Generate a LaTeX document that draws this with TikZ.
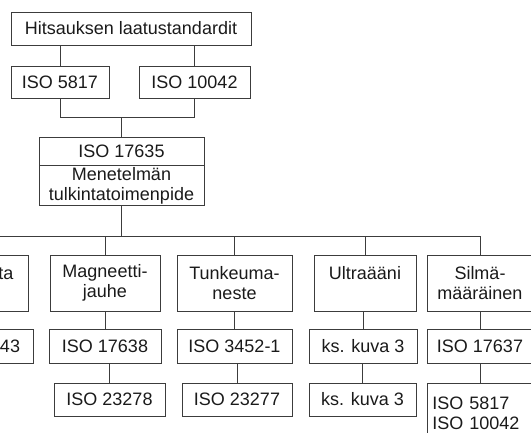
\documentclass[tikz,border=0pt]{standalone}
\usepackage{fontspec}
\setmainfont{Liberation Sans}
\usepackage{tikz}
\usetikzlibrary{positioning}
\definecolor{boxline}{HTML}{3C3C3C}
\definecolor{boxtext}{HTML}{1A1A1A}

\begin{document}
\begin{tikzpicture}[x=1pt,y=-1pt,
    box/.style={draw=boxline,line width=0.9pt,text=boxtext,align=center,
        inner sep=1pt,font=\fontsize{18}{20}\selectfont},
    link/.style={draw=boxline,line width=0.9pt}]
    \useasboundingbox (0,0) rectangle (531,432);
    \clip (0,0) rectangle (531,432);

    \node[box,minimum width=240,minimum height=33] (laatu) at (131,28.5) {Hitsauksen laatustandardit};
    \node[box,minimum width=98,minimum height=32] (iso5817) at (60,82) {ISO 5817};
    \node[box,minimum width=111,minimum height=32] (iso10042) at (194.5,82) {ISO 10042};

    \node[box,minimum width=165,minimum height=28] (iso17635) at (121.5,151) {ISO 17635};
    \node[box,minimum width=165,minimum height=40,below=0pt of iso17635] (menetelma) {Menetelmän\\tulkintatoimenpide};

    \node[box,minimum width=116,minimum height=56] (pyorre) at (-30,283) {Pyörrevirta\\\mbox{}};
    \node[box,minimum width=110,minimum height=56] (magneetti) at (105,283) {Magneetti-\\jauhe};
    \node[box,minimum width=115,minimum height=56] (tunkeuma) at (234.5,283) {Tunkeuma-\\neste};
    \node[box,minimum width=102,minimum height=56] (ultra) at (365,283) {Ultraääni\\\mbox{}};
    \node[box,minimum width=106,minimum height=56] (silma) at (480,283) {Silmä-\\ määräinen};

    \node[box,minimum width=112,minimum height=34] (iso17643) at (-23,346) {ISO 17643};
    \node[box,minimum width=112,minimum height=34] (iso17638) at (105,346) {ISO 17638};
    \node[box,minimum width=115,minimum height=34] (iso3452) at (234.5,346) {ISO 3452-1};
    \node[box,minimum width=108,minimum height=34] (kskuva) at (363,346) {ks. kuva 3};
    \node[box,minimum width=106,minimum height=34] (iso17637) at (480,346) {ISO 17637};

    \node[box,minimum width=111,minimum height=33] (iso23278) at (109.5,399.5) {ISO 23278};
    \node[box,minimum width=110,minimum height=33] (iso23277) at (237,399.5) {ISO 23277};
    \node[box,minimum width=107,minimum height=33] (kskuvab) at (362.5,399.5) {ks. kuva 3};
    \node[box,anchor=north west,align=left,text width=96,inner xsep=5,inner ysep=9,
        minimum height=60] (isolist) at (427,383) {ISO 5817\\ISO 10042};

    % ylin haarautuminen
    \draw[link] (iso5817.north) -- (iso5817.north |- laatu.south);
    \draw[link] (iso10042.north) -- (iso10042.north |- laatu.south);
    \draw[link] (iso5817.south) -- ++(0,19) -| (iso10042.south);
    \draw[link] (iso17635.north) -- ++(0,-20);

    % menetelmat
    \coordinate (bus) at (menetelma.south |- 0,236);
    \draw[link] (menetelma.south) -- (bus);
    \draw[link] (pyorre.north) |- (silma.north |- bus) -- (silma.north);
    \foreach \m in {magneetti,tunkeuma,ultra}
        \draw[link] (\m.north) -- (\m.north |- bus);

    \foreach \a/\b in {pyorre/iso17643,magneetti/iso17638,tunkeuma/iso3452,
        ultra/kskuva,silma/iso17637,iso17638/iso23278,iso3452/iso23277,
        kskuva/kskuvab,iso17637/isolist}
        \draw[link] (\b.north) -- (\b.north |- \a.south);
\end{tikzpicture}
\end{document}
